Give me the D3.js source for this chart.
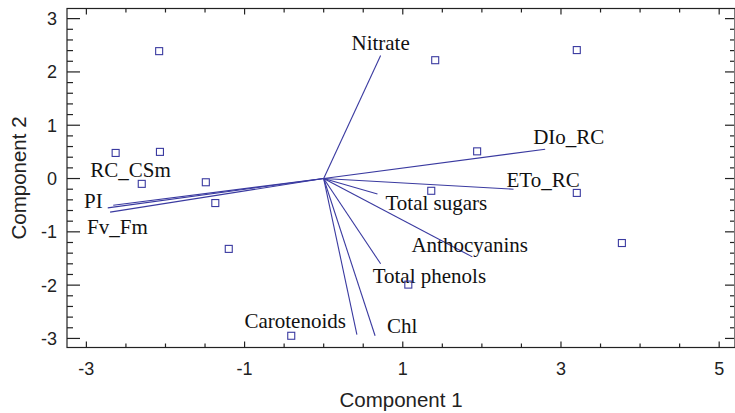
<!DOCTYPE html>
<html>
<head>
<meta charset="utf-8">
<script src="https://cdn.jsdelivr.net/npm/d3@7"></script>
<style>
  html, body { margin: 0; padding: 0; background: #fff; }
  svg { display: block; }
</style>
</head>
<body>
<div id="chart"></div>
<script>
// scores (observations)
const scoreX = [-2.08, -2.63, -2.07, -2.30, -1.49, -1.37, -1.20, -0.41, 1.41, 1.94, 1.36, 1.07, 3.20, 3.20, 3.77];
const scoreY = [2.39, 0.48, 0.50, -0.10, -0.07, -0.46, -1.32, -2.95, 2.22, 0.51, -0.23, -1.99, 2.41, -0.27, -1.21];

// loadings (variables)
const varNames = ["Nitrate", "DIo_RC", "ETo_RC", "Total sugars", "Anthocyanins", "Total phenols",
                  "Carotenoids", "Chl", "RC_CSm", "PI", "Fv_Fm"];
const varX = [0.72, 2.80, 2.40, 0.68, 1.88, 0.72, 0.42, 0.65, -2.66, -2.73, -2.70];
const varY = [2.31, 0.55, -0.20, -0.29, -1.47, -1.60, -2.93, -2.95, -0.50, -0.55, -0.63];

const xTickLabels = [-3, -1, 1, 3, 5];
const yTickLabels = [-3, -2, -1, 0, 1, 2, 3];

// label placement relative to the vector tip (pixels)
const labelPos = {
  "Nitrate":       { anchor: "middle", dx: 0,   dy: -5 },
  "DIo_RC":        { anchor: "start",  dx: -12, dy: -5 },
  "ETo_RC":        { anchor: "start",  dx: -7,  dy: -2 },
  "Total sugars":  { anchor: "start",  dx: 8,   dy: 16 },
  "Anthocyanins":  { anchor: "start",  dx: -61, dy: -5 },
  "Total phenols": { anchor: "start",  dx: -8,  dy: 19 },
  "Carotenoids":   { anchor: "end",    dx: -11, dy: -7 },
  "Chl":           { anchor: "start",  dx: 12,  dy: -3 },
  "RC_CSm":        { anchor: "start",  dx: -23, dy: -28 },
  "PI":            { anchor: "end",    dx: -5,  dy: 0 },
  "Fv_Fm":         { anchor: "start",  dx: -23, dy: 22 }
};

const W = 735, H = 413;
const gauche = 67, droite = 735, haut = 8.5, bas = 347.5;
const couleurAxe = "#222";
const couleurBleu = "#3a3aa0";

const svg = d3.select("#chart").append("svg").attr("width", W).attr("height", H);

const x = d3.scaleLinear().domain([-3.245, 5.2]).range([gauche, droite]);
const y = d3.scaleLinear().domain([-3.17, 3.19]).range([bas, haut]);

// ticks every 0.5 on x, every 0.2 on y
const xTicks = d3.range(-3, 5.001, 0.5).map(v => +v.toFixed(1));
const yTicks = d3.range(-3, 3.001, 0.2).map(v => +v.toFixed(1));
const isMajorX = v => xTickLabels.includes(v);
const isMajorY = v => yTickLabels.includes(v);

const axes = svg.append("g").attr("stroke", couleurAxe).attr("stroke-width", 1.2);

// frame
axes.append("rect")
  .attr("x", gauche).attr("y", haut)
  .attr("width", droite - gauche).attr("height", bas - haut)
  .attr("fill", "none");

// x ticks, bottom and top, pointing in
axes.selectAll(".xb").data(xTicks).enter().append("line")
  .attr("x1", d => x(d)).attr("x2", d => x(d))
  .attr("y1", bas).attr("y2", d => bas - (isMajorX(d) ? 6 : 4));
axes.selectAll(".xt").data(xTicks).enter().append("line")
  .attr("x1", d => x(d)).attr("x2", d => x(d))
  .attr("y1", haut).attr("y2", d => haut + (isMajorX(d) ? 6 : 4));

// y ticks, left and right
axes.selectAll(".yl").data(yTicks).enter().append("line")
  .attr("y1", d => y(d)).attr("y2", d => y(d))
  .attr("x1", gauche).attr("x2", d => gauche + (isMajorY(d) ? 13 : 6));
axes.selectAll(".yr").data(yTicks).enter().append("line")
  .attr("y1", d => y(d)).attr("y2", d => y(d))
  .attr("x1", droite - 1).attr("x2", d => droite - 1 - (isMajorY(d) ? 9 : 4));

const sans = "'Liberation Sans', Arial, sans-serif";
const serif = "'Liberation Serif', 'Times New Roman', serif";

svg.selectAll(".xl").data(xTickLabels).enter().append("text")
  .attr("x", d => x(d)).attr("y", 375)
  .attr("text-anchor", "middle")
  .style("font-family", sans).style("font-size", "18px").attr("fill", "#222")
  .text(d => d);

svg.selectAll(".yl-t").data(yTickLabels).enter().append("text")
  .attr("x", 57).attr("y", d => y(d) + 6.5)
  .attr("text-anchor", "end")
  .style("font-family", sans).style("font-size", "18px").attr("fill", "#222")
  .text(d => d);

svg.append("text")
  .attr("x", (gauche + droite) / 2).attr("y", 407)
  .attr("text-anchor", "middle")
  .style("font-family", sans).style("font-size", "20.5px").attr("fill", "#222")
  .text("Component 1");

svg.append("text")
  .attr("transform", `translate(26,${(haut + bas) / 2}) rotate(-90)`)
  .attr("text-anchor", "middle")
  .style("font-family", sans).style("font-size", "20.5px").attr("fill", "#222")
  .text("Component 2");

// vectors
const vars = varNames.map((n, i) => ({ nom: n, vx: varX[i], vy: varY[i] }));
const g = svg.append("g");

g.selectAll(".vecteur").data(vars).enter().append("line")
  .attr("class", "vecteur")
  .attr("x1", x(0)).attr("y1", y(0))
  .attr("x2", d => x(d.vx)).attr("y2", d => y(d.vy))
  .attr("stroke", couleurBleu).attr("stroke-width", 1.1);

g.selectAll(".etiquette").data(vars).enter().append("text")
  .attr("x", d => x(d.vx) + labelPos[d.nom].dx)
  .attr("y", d => y(d.vy) + labelPos[d.nom].dy)
  .attr("text-anchor", d => labelPos[d.nom].anchor)
  .style("font-family", serif).style("font-size", "21px").attr("fill", "#111")
  .text(d => d.nom);

// score points
const pts = scoreX.map((v, i) => ({ sx: v, sy: scoreY[i] }));
g.selectAll(".point").data(pts).enter().append("rect")
  .attr("x", d => x(d.sx) - 3.5).attr("y", d => y(d.sy) - 3.5)
  .attr("width", 7).attr("height", 7)
  .attr("fill", "none").attr("stroke", couleurBleu).attr("stroke-width", 1.1);
</script>
</body>
</html>
